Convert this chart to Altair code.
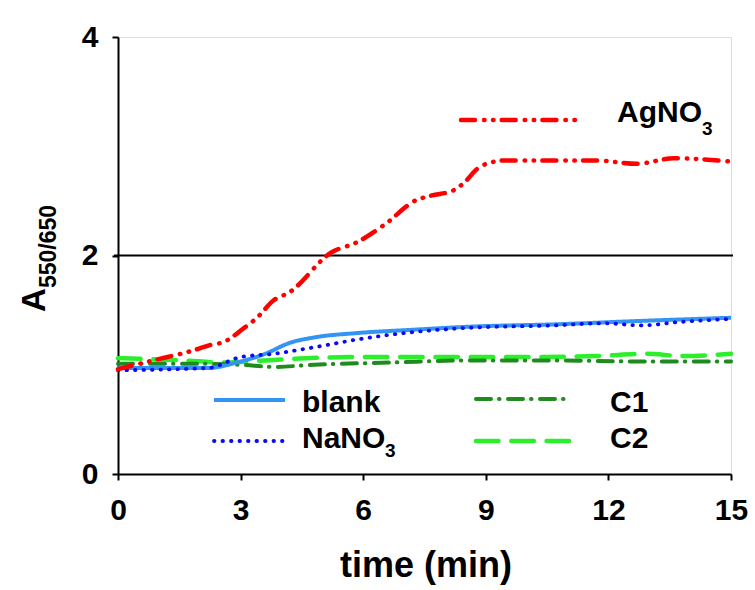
import altair as alt
import pandas as pd

# ---- data ----
t_ag = [0, 0.86, 1.83, 2.25, 2.6, 3.06, 3.4, 3.81, 4.18, 5.23, 5.84, 6.55, 7.26, 7.68, 8.17, 8.48, 8.78, 9.1, 9.49, 10.7, 11.7, 12.7, 13.6, 15]
v_ag = [0.96, 1.04, 1.13, 1.18, 1.21, 1.33, 1.43, 1.59, 1.66, 2.03, 2.12, 2.29, 2.50, 2.55, 2.59, 2.67, 2.79, 2.85, 2.87, 2.87, 2.87, 2.84, 2.89, 2.86]

t_blank = [0, 2.2, 2.9, 3.6, 4.2, 4.8, 5.85, 7.2, 8.7, 10.7, 12.7, 15]
v_blank = [0.97, 0.97, 1.02, 1.10, 1.20, 1.25, 1.29, 1.32, 1.35, 1.37, 1.40, 1.43]

t_na = [0, 2.2, 3.0, 3.8, 4.8, 6.0, 7.25, 8.7, 10.7, 11.9, 12.8, 13.7, 15]
v_na = [0.95, 0.97, 1.07, 1.10, 1.16, 1.24, 1.30, 1.34, 1.36, 1.38, 1.36, 1.39, 1.42]

t_c1 = [0, 1.6, 3.0, 3.8, 4.8, 6.65, 8.7, 10.7, 12.7, 15]
v_c1 = [1.01, 1.01, 1.00, 0.98, 1.00, 1.02, 1.04, 1.04, 1.03, 1.03]

t_c2 = [0, 1.6, 2.6, 3.6, 5.65, 7.7, 9.7, 11.7, 12.95, 13.8, 15]
v_c2 = [1.06, 1.04, 1.02, 1.04, 1.07, 1.07, 1.07, 1.08, 1.10, 1.08, 1.10]

x_ticks = [0, 3, 6, 9, 12, 15]
y_ticks = [0, 2, 4]

FONT = "Liberation Sans"

xs = alt.Scale(domain=[0, 15], nice=False)
ys = alt.Scale(domain=[0, 4], nice=False)

axis_common = dict(title=None, grid=False, tickSize=6, tickColor="black", tickWidth=2,
                   domainColor="black", domainWidth=2, labelFontSize=30, labelFont=FONT,
                   labelFontWeight="bold", labelColor="black", labelFlush=False,
                   format="d")


def series(t, v, color, width, dash, cap):
    df = pd.DataFrame({"t": t, "v": v})
    return alt.Chart(df).mark_line(
        color=color, strokeWidth=width, strokeDash=dash, strokeCap=cap,
        interpolate="monotone"
    ).encode(
        x=alt.X("t:Q", scale=xs,
                axis=alt.Axis(values=x_ticks, labelPadding=15, **axis_common)),
        y=alt.Y("v:Q", scale=ys,
                axis=alt.Axis(values=y_ticks, labelPadding=14, **axis_common)),
    )


RED, BLUE1, BLUE2, DG, LG = "#FF0000", "#3294F5", "#0A0AF5", "#1F8B1F", "#2BEF2B"
DASH_AG = [14, 9, 0.5, 8.5, 0.5, 8.2]
DASH_NA = [0.5, 8]
DASH_C1 = [15, 8, 0.5, 8.5]
DASH_C2 = [22.5, 12.8]

ref = alt.Chart(pd.DataFrame({"y": [2]})).mark_rule(color="black", strokeWidth=2).encode(
    y=alt.Y("y:Q", scale=ys), x=alt.value(-4), x2=alt.value(615)
)

l_c2 = series(t_c2, v_c2, LG, 4.5, DASH_C2, "round")
l_c1 = series(t_c1, v_c1, DG, 4, DASH_C1, "round")
l_blank = series(t_blank, v_blank, BLUE1, 4, [1, 0], "butt")
l_na = series(t_na, v_na, BLUE2, 3.8, DASH_NA, "round")
l_ag = series(t_ag, v_ag, RED, 4.5, DASH_AG, "round")


def leg_line(x1, x2, y, color, width, dash, cap):
    return alt.Chart(pd.DataFrame({"a": [0]})).mark_rule(
        color=color, strokeWidth=width, strokeDash=dash, strokeCap=cap
    ).encode(x=alt.value(x1), x2=alt.value(x2), y=alt.value(y))


def txt(s, x, y, size, angle=0, align="left"):
    return alt.Chart(pd.DataFrame({"a": [0]})).mark_text(
        text=s, font=FONT, fontWeight="bold", fontSize=size, color="black",
        align=align, baseline="alphabetic", angle=angle
    ).encode(x=alt.value(x), y=alt.value(y))


legend = [
    leg_line(343, 457, 83, RED, 4.5, DASH_AG, "round"),
    leg_line(96, 167, 363, BLUE1, 4, [1, 0], "butt"),
    leg_line(96, 167, 404, BLUE2, 3.8, DASH_NA, "round"),
    leg_line(358, 449, 362, DG, 4, DASH_C1, "round"),
    leg_line(358, 453, 404, LG, 4.5, DASH_C2, "round"),
    txt("AgNO", 499, 85, 30), txt("3", 584, 98, 19),
    txt("blank", 184, 375, 30),
    txt("NaNO", 184, 411, 30), txt("3", 267, 420, 19),
    txt("C1", 492, 375, 30),
    txt("C2", 492, 411, 30),
    txt("time (min)", 308, 540, 36, align="center"),
    txt("A", -73, 275, 33, angle=270),
    txt("550/650", -62, 251, 23, angle=270),
]

chart = alt.layer(ref, l_c2, l_c1, l_blank, l_na, l_ag, *legend).properties(
    width=613, height=437,
    autosize=alt.AutoSizeParams(type="none"),
    padding={"left": 118, "top": 37, "right": 24, "bottom": 116},
).configure_view(stroke=None).configure(background="white")

chart.save("out.html", embed_options={"renderer": "svg", "actions": False})
